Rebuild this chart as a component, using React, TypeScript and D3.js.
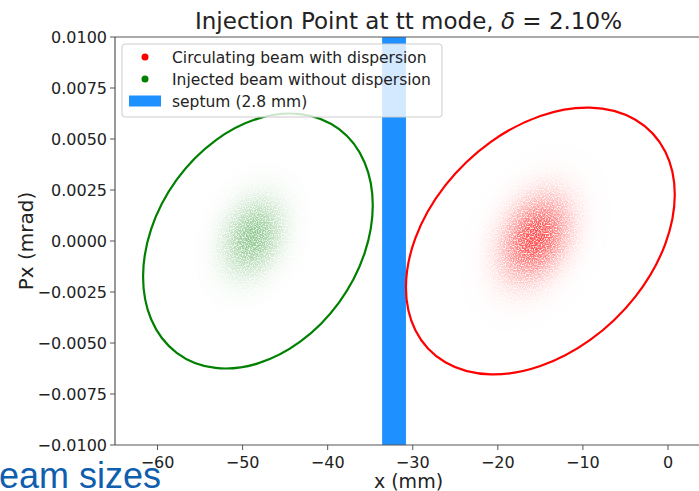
import React, { useRef, useEffect } from "react";
import * as d3 from "d3";

// beams: circulating (red) and injected (green)
const beamNames = ["Circulating beam with dispersion", "Injected beam without dispersion"];
const beamColors = ["#ff0000", "#008000"];
// acceptance ellipse (x in mm, Px in mrad)
const ellipseCx = [-15.0, -48.2];
const ellipseCp = [0.0, 0.0];
const ellipseHalfX = [15.8, 13.5];
const ellipseHalfP = [0.00654, 0.00625];
const ellipseTilt = [0.348, 0.28]; // sin of phase shift between x and Px
// particle clouds: centroid, rms sizes and x-Px tilt
const cloudCx = [-15.6, -48.8];
const cloudCp = [0.00015, 0.0002];
const cloudSigmaX = [2.6, 2.3];
const cloudSigmaP = [0.00135, 0.00122];
const cloudTilt = [0.3, 0.25];
const cloudPeak = [0.72, 0.45];

const septumLabel = "septum (2.8 mm)";
const septumRange = [-33.6, -30.8];

const xTicks = [-60, -50, -40, -30, -20, -10, 0];
const yTicks = [-0.01, -0.0075, -0.005, -0.0025, 0, 0.0025, 0.005, 0.0075, 0.01];

const W = 699, H = 491;
const M = { left: 115, top: 37, right: 702, bottom: 445 };
const FONT = "'DejaVu Sans', sans-serif";
const SPREAD = 4; // gradient reaches this many sigma

export default function App() {
  const ref = useRef<SVGSVGElement>(null);

  useEffect(() => {
    const svg = d3.select(ref.current);
    svg.selectAll("*").remove();

    const x = d3.scaleLinear().domain([-65, 4]).range([M.left, M.right]);
    const y = d3.scaleLinear().domain([-0.01, 0.01]).range([M.bottom, M.top]);
    const pxPerMm = x(1) - x(0);
    const pxPerP = y(0) - y(1);

    const defs = svg.append("defs");
    defs.append("clipPath").attr("id", "plot")
      .append("rect").attr("x", M.left).attr("y", M.top)
      .attr("width", M.right - M.left).attr("height", M.bottom - M.top);

    // grain to mimic a cloud of tiny points
    const f = defs.append("filter").attr("id", "grain")
      .attr("x", 0).attr("y", 0).attr("width", W).attr("height", H)
      .attr("filterUnits", "userSpaceOnUse");
    f.append("feTurbulence").attr("type", "fractalNoise").attr("baseFrequency", 0.75)
      .attr("numOctaves", 1).attr("seed", 7).attr("result", "n");
    f.append("feColorMatrix").attr("in", "n").attr("type", "matrix")
      .attr("values", "0 0 0 0 0  0 0 0 0 0  0 0 0 0 0  3.5 0 0 0 -1.0").attr("result", "m");
    f.append("feComposite").attr("in", "SourceGraphic").attr("in2", "m").attr("operator", "in");

    beamNames.forEach((_, i) => {
      const g = defs.append("radialGradient").attr("id", "cloud" + i);
      d3.range(0, 1.0001, 0.08).concat([1]).forEach((r) => {
        const s = r * SPREAD;
        g.append("stop").attr("offset", r)
          .attr("stop-color", beamColors[i])
          .attr("stop-opacity", cloudPeak[i] * Math.exp(-s * s / 2));
      });
    });

    const plot = svg.append("g").attr("clip-path", "url(#plot)");

    // septum
    plot.append("rect")
      .attr("x", x(septumRange[0])).attr("y", M.top)
      .attr("width", x(septumRange[1]) - x(septumRange[0]))
      .attr("height", M.bottom - M.top)
      .attr("fill", "#1e90ff");

    // unit circle -> tilted phase-space ellipse
    const mat = (hx: number, hp: number, tilt: number, cx: number, cp: number) => {
      const X = hx * pxPerMm;
      const P = hp * pxPerP;
      const c = Math.sqrt(1 - tilt * tilt);
      return `matrix(${X},${-P * tilt},0,${-P * c},${x(cx)},${y(cp)})`;
    };

    beamNames.forEach((_, i) => {
      plot.append("g").attr("filter", "url(#grain)")
        .append("circle").attr("r", SPREAD)
        .attr("transform", mat(cloudSigmaX[i], cloudSigmaP[i], cloudTilt[i], cloudCx[i], cloudCp[i]))
        .attr("fill", `url(#cloud${i})`);
      plot.append("circle").attr("r", 1)
        .attr("transform", mat(ellipseHalfX[i], ellipseHalfP[i], ellipseTilt[i], ellipseCx[i], ellipseCp[i]))
        .attr("fill", "none").attr("stroke", beamColors[i])
        .attr("stroke-width", 2.2).attr("vector-effect", "non-scaling-stroke");
    });

    // axes
    const axes = svg.append("g").attr("font-family", FONT).attr("fill", "#222");
    [[M.left, M.bottom, M.right, M.bottom], [M.left, M.top, M.right, M.top], [M.left, M.top, M.left, M.bottom]]
      .forEach(([x1, y1, x2, y2]) => {
        axes.append("line").attr("x1", x1).attr("y1", y1).attr("x2", x2).attr("y2", y2)
          .attr("stroke", "#555").attr("stroke-width", 1.2);
      });

    const fx = d3.format("d");
    xTicks.forEach((t) => {
      axes.append("line").attr("x1", x(t)).attr("x2", x(t)).attr("y1", M.bottom)
        .attr("y2", M.bottom + 5).attr("stroke", "#555");
      axes.append("text").attr("x", x(t)).attr("y", M.bottom + 23)
        .attr("text-anchor", "middle").attr("font-size", 16).text(fx(t));
    });
    const fy = d3.format(".4f");
    yTicks.forEach((t) => {
      axes.append("line").attr("x1", M.left - 5).attr("x2", M.left).attr("y1", y(t))
        .attr("y2", y(t)).attr("stroke", "#555");
      axes.append("text").attr("x", M.left - 8).attr("y", y(t) + 6)
        .attr("text-anchor", "end").attr("font-size", 16).text(fy(t));
    });

    axes.append("text").attr("x", (M.left + M.right) / 2).attr("y", 488)
      .attr("text-anchor", "middle").attr("font-size", 19).text("x (mm)");
    axes.append("text").attr("transform", `translate(33,${(M.top + M.bottom) / 2}) rotate(-90)`)
      .attr("text-anchor", "middle").attr("font-size", 20).text("Px (mrad)");

    const title = axes.append("text").attr("x", (M.left + M.right) / 2).attr("y", 29)
      .attr("text-anchor", "middle").attr("font-size", 23);
    title.append("tspan").text("Injection Point at tt mode, ");
    title.append("tspan").attr("font-style", "italic").text("δ");
    title.append("tspan").text(" = 2.10%");

    // legend
    const lg = svg.append("g").attr("font-family", FONT);
    lg.append("rect").attr("x", 122).attr("y", 44).attr("width", 320).attr("height", 73)
      .attr("rx", 3).attr("fill", "#fff").attr("fill-opacity", 0.8)
      .attr("stroke", "#ccc").attr("stroke-width", 1);
    const rowY = [57, 79, 101];
    beamNames.forEach((n, i) => {
      lg.append("circle").attr("cx", 145).attr("cy", rowY[i]).attr("r", 3.5).attr("fill", beamColors[i]);
      lg.append("text").attr("x", 172).attr("y", rowY[i] + 5.5).attr("font-size", 15.5)
        .attr("fill", "#222").text(n);
    });
    lg.append("rect").attr("x", 129).attr("y", rowY[2] - 5.5).attr("width", 32).attr("height", 11)
      .attr("fill", "#1e90ff");
    lg.append("text").attr("x", 172).attr("y", rowY[2] + 5.5).attr("font-size", 15.5)
      .attr("fill", "#222").text(septumLabel);

    // slide text cut at the left edge
    svg.append("text").attr("x", -25).attr("y", 488)
      .attr("font-family", "'Liberation Sans', Arial, sans-serif").attr("font-size", 36)
      .attr("fill", "#0f5fae").text("Beam sizes");
  }, []);

  return (
    <svg ref={ref} width={W} height={H}
      style={{ position: "absolute", left: 0, top: 0, background: "#fff" }} />
  );
}
